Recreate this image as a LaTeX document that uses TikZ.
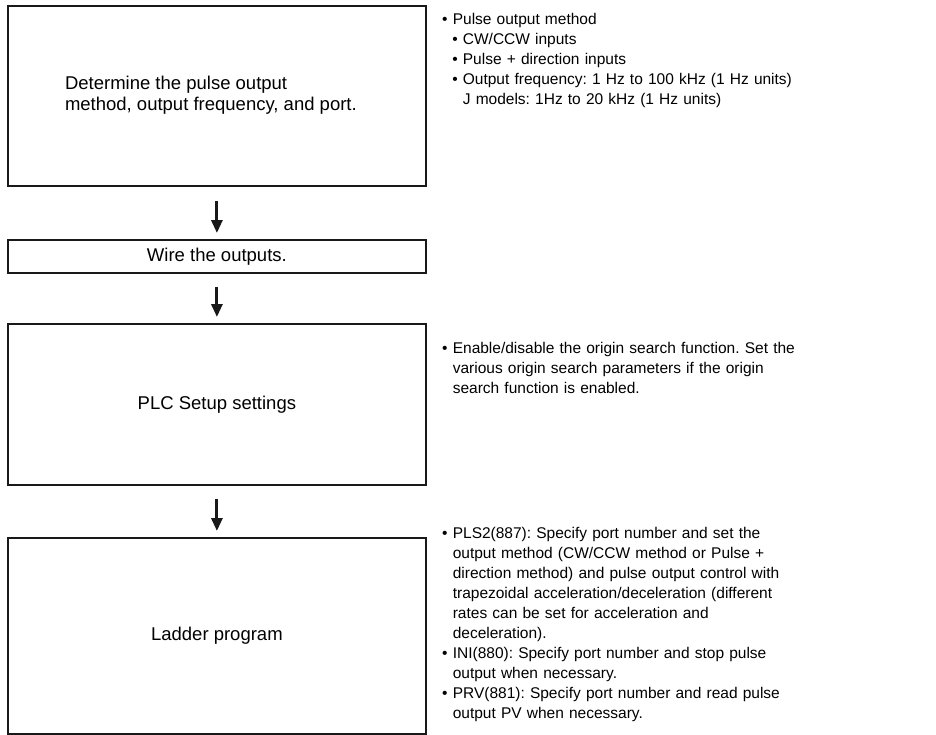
\documentclass[tikz,border=0pt]{standalone}
\usepackage{fontspec}
\setmainfont{Liberation Sans}
\usepackage{tikz}
\usetikzlibrary{arrows.meta,positioning}
\frenchspacing
\newlength{\bulw}
\newcommand{\bul}[1]{\par\hangindent=\bulw\hangafter=1\noindent\makebox[\bulw][l]{\textbullet}#1\par}
\newcommand{\subbul}[1]{\par{\leftskip=0.65em\hangindent=\bulw\hangafter=1\noindent\makebox[\bulw][l]{\textbullet}#1\par}}

\begin{document}
\begin{tikzpicture}[x=1pt,y=-1pt,
 stepbox/.style={draw=black!90,line width=1.8pt,minimum width=418pt,inner sep=0pt,
 font=\fontsize{18.5}{20.5}\selectfont},
 note/.style={anchor=north west,inner sep=0pt,text width=480pt,align=left,
 font=\fontsize{15.5}{20}\selectfont},
 flow/.style={-{Triangle[length=13pt,width=11pt]},line width=3pt,black!90}]
\useasboundingbox (0,0) rectangle (936,734);
\node[stepbox,minimum height=180pt,anchor=north west] (method) at (7,5)
 {\begin{tabular}{@{}l@{}}Determine the pulse output\\method, output frequency, and port.\end{tabular}\hspace*{12pt}};
\node[stepbox,minimum height=33pt,anchor=north west] (wire) at (7,239) {Wire the outputs.};
\node[stepbox,minimum height=161pt,anchor=north west] (setup) at (7,323) {PLC Setup settings};
\node[stepbox,minimum height=196pt,anchor=north west] (ladder) at (7,537) {Ladder program};
\draw[flow] ([yshift=-14pt]method.south) -- ([yshift=6pt]wire.north);
\draw[flow] ([yshift=-13pt]wire.south) -- ([yshift=6pt]setup.north);
\draw[flow] ([yshift=-13pt]setup.south) -- ([yshift=6pt]ladder.north);
% notes beside the steps
\node[note] (methodnote) at (442,4) {\settowidth{\bulw}{\textbullet\ }%
 \bul{Pulse output method}
 \subbul{CW/CCW inputs}
 \subbul{Pulse + direction inputs}
 \subbul{Output frequency: 1 Hz to 100 kHz (1 Hz units)\newline J models: 1Hz to 20 kHz (1 Hz units)}};
\node[note] (setupnote) at (442,333) {\settowidth{\bulw}{\textbullet\ }%
 \bul{Enable/disable the origin search function. Set the\newline various origin search parameters if the origin\newline search function is enabled.}};
\node[note] (laddernote) at (442,518) {\settowidth{\bulw}{\textbullet\ }%
 \bul{PLS2(887): Specify port number and set the\newline output method (CW/CCW method or Pulse +\newline direction method) and pulse output control with\newline trapezoidal acceleration/deceleration (different\newline rates can be set for acceleration and\newline deceleration).}
 \bul{INI(880): Specify port number and stop pulse\newline output when necessary.}
 \bul{PRV(881): Specify port number and read pulse\newline output PV when necessary.}};
\end{tikzpicture}
\end{document}
